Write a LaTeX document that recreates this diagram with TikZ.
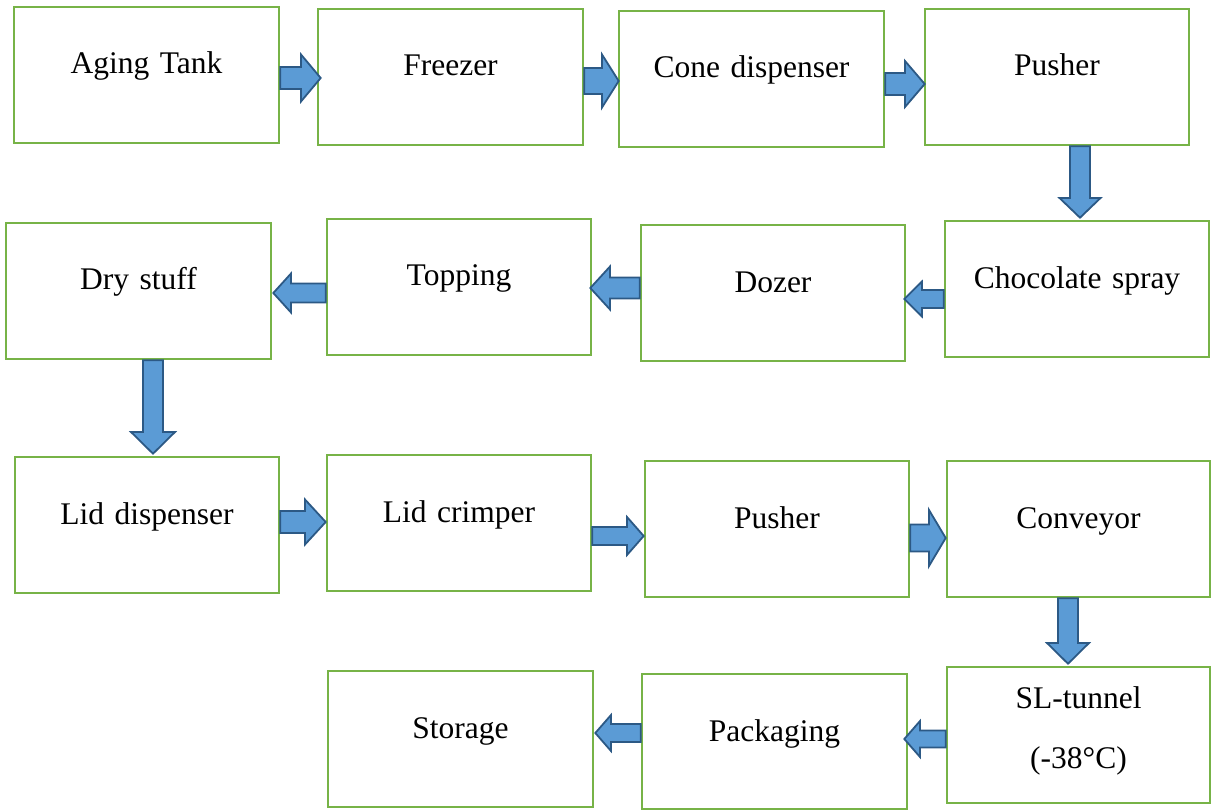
\documentclass[tikz,border=0pt]{standalone}
\usepackage{fontspec}
\setmainfont{Liberation Serif}
\usetikzlibrary{calc}
\definecolor{boxgreen}{HTML}{77B347}
\definecolor{arrfill}{HTML}{5B9BD5}
\definecolor{arrline}{HTML}{2C5985}
\tikzset{
  pbox/.style={draw=boxgreen, line width=2.6pt, inner sep=0pt, align=center,
    minimum width=265pt, minimum height=136pt, text width=265pt,
    text height=67pt, text depth=69pt,
    font=\fontsize{31.5}{38}\selectfont},
  barrow/.style={draw=arrline, fill=arrfill, line width=1.8pt, line join=miter}
}
% right arrow: from, to, y, shaft half, head half, head base x, tip offset
\newcommand\flowR[7]{\draw[barrow] (#1.east |- 0,#3-#4) -- (#6,#3-#4) -- (#6,#3-#5) -- ($(#2.west |- 0,#3)+(#7,0)$) -- (#6,#3+#5) -- (#6,#3+#4) -- (#1.east |- 0,#3+#4) -- cycle;}
% left arrow
\newcommand\flowL[7]{\draw[barrow] (#1.west |- 0,#3-#4) -- (#6,#3-#4) -- (#6,#3-#5) -- ($(#2.east |- 0,#3)+(#7,0)$) -- (#6,#3+#5) -- (#6,#3+#4) -- (#1.west |- 0,#3+#4) -- cycle;}
% down arrow: from, to, x, shaft half, head half, head base y, tip offset
\newcommand\flowD[7]{\draw[barrow] (#1.south -| #3-#4,0) -- (#3-#4,#6) -- (#3-#5,#6) -- ($(#2.north -| #3,0)+(0,#7)$) -- (#3+#5,#6) -- (#3+#4,#6) -- (#1.south -| #3+#4,0) -- cycle;}
\begin{document}
\begin{tikzpicture}[x=1pt,y=-1pt]
\useasboundingbox (0,0) rectangle (1212,810);
% row 1
\node[pbox] (aging)   at (146.5,75)  {Aging Tank};
\node[pbox] (freezer) at (450.5,77)  {Freezer};
\node[pbox] (cone)    at (751.5,79)  {Cone dispenser};
\node[pbox, minimum width=264pt, text width=264pt] (pusherA) at (1057,77) {Pusher};
% row 2
\node[pbox, minimum width=264pt, text width=264pt] (choc)    at (1077,289) {Chocolate spray};
\node[pbox, minimum width=264pt, text width=264pt] (dozer)   at (773,293)  {Dozer};
\node[pbox, minimum width=264pt, text width=264pt] (topping) at (459,287)  {Topping};
\node[pbox] (dry)     at (138.5,291) {Dry stuff};
% row 3
\node[pbox, minimum width=264pt, text width=264pt] (liddisp)  at (147,525) {Lid dispenser};
\node[pbox, minimum width=264pt, text width=264pt] (lidcrimp) at (459,523) {Lid crimper};
\node[pbox, minimum width=264pt, text width=264pt] (pusherB)  at (777,529) {Pusher};
\node[pbox, minimum width=263pt, text width=263pt] (conveyor) at (1078.5,529) {Conveyor};
% row 4
\node[pbox, minimum width=263pt, text width=263pt, text height=41pt, text depth=95pt] (tunnel) at (1078.5,735) {SL-tunnel\\[22pt](-38°C)};
\node[pbox, minimum height=135pt, text depth=68pt] (packaging) at (774.5,741.5) {Packaging};
\node[pbox] (storage) at (460.5,739) {Storage};
% arrows
\flowR{aging}{freezer}{78}{11}{23.5}{301}{4}
\flowR{freezer}{cone}{81}{13}{26.5}{602}{1}
\flowR{cone}{pusherA}{84}{11}{23}{905}{1}
\flowD{pusherA}{choc}{1080}{10}{20.5}{198}{-2}
\flowL{choc}{dozer}{299}{9}{17.5}{922}{-2}
\flowL{dozer}{topping}{288}{10.5}{21.5}{610}{-2}
\flowL{topping}{dry}{293}{9.5}{19.5}{291}{1}
\flowD{dry}{liddisp}{153}{10}{22}{432}{-2}
\flowR{liddisp}{lidcrimp}{522}{11}{22.5}{305}{0}
\flowR{lidcrimp}{pusherB}{536}{9}{19}{627}{0}
\flowR{pusherB}{conveyor}{538}{13.5}{28}{929}{0}
\flowD{conveyor}{tunnel}{1068}{10}{21}{643}{-2}
\flowL{tunnel}{packaging}{739}{8.5}{18}{920}{-4}
\flowL{packaging}{storage}{733}{9}{18}{611}{1}
\end{tikzpicture}
\end{document}
